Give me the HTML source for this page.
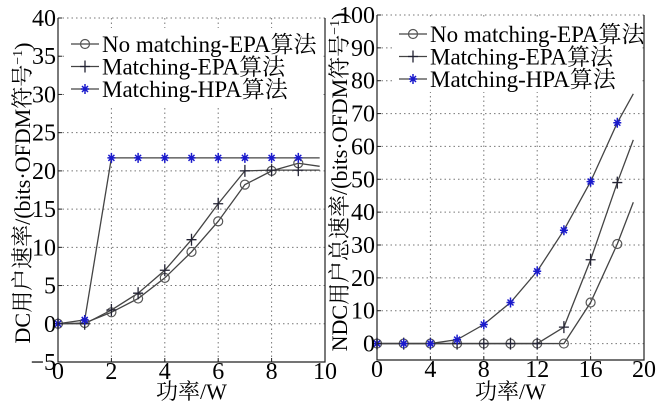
<!DOCTYPE html>
<html><head><meta charset="utf-8"><style>
html,body{margin:0;padding:0;background:#fff}
#c, #c text{font-family:"Liberation Serif","DejaVu Serif","Noto Serif CJK SC",serif}
</style></head><body>
<svg id="c" width="658" height="407" xmlns="http://www.w3.org/2000/svg"></svg>
<script>
// Left chart data
const leftX=[0,1,2,3,4,5,6,7,8,9];
const leftNoMatch=[0,0.1,1.5,3.3,6,9.4,13.4,18.2,20,21];
const leftEPA=[0,0,1.8,4,7,11,15.7,20,20.1,20.1];
const leftHPA=[0,0.5,21.7,21.7,21.7,21.7,21.7,21.7,21.7,21.7];
const leftEndX=9.8;
const leftEnd=[20.6,20.1,21.7];
const leftXTicks=[0,2,4,6,8,10];
const leftYTicks=[-5,0,5,10,15,20,25,30,35,40];
// Right chart data
const rightX=[0,2,4,6,8,10,12,14,16,18];
const rightNoMatch=[0,0,0,0,0,0,0,0,12.5,30.3];
const rightEPA=[0,0,0,0,0,0,0,5,25.5,49];
const rightHPA=[0,0,0,1.2,5.8,12.5,22,34.5,49.3,67.2];
const rightEndX=19.2;
const rightEnd=[43,62,76];
const rightXTicks=[0,4,8,12,16,20];
const rightYTicks=[0,10,20,30,40,50,60,70,80,90,100];
const legendLabels=["No matching-EPA算法","Matching-EPA算法","Matching-HPA算法"];

const svg=document.getElementById('c');
const NS='http://www.w3.org/2000/svg';
const FONT='"Liberation Serif","DejaVu Serif","Noto Serif CJK SC",serif';
function mk(tag,attrs,parent){const e=document.createElementNS(NS,tag);for(const k in attrs)e.setAttribute(k,attrs[k]);if(tag==='text')e.style.fontFamily=FONT;(parent||svg).appendChild(e);return e;}

function marker(g,kind,x,y){
  if(kind===0){const m=mk('circle',{cx:x,cy:y,r:4.5,fill:'none',stroke:'#555','stroke-width':1.2},g);
    
    }
  else if(kind===1){const m=mk('path',{d:`M${x-5} ${y}H${x+5}M${x} ${y-6}V${y+6}`,stroke:'#223','stroke-width':1.3},g);
    
    }
  else{const m=mk('path',{d:`M${x-4} ${y}H${x+4}M${x} ${y-5}V${y+5}M${x-3} ${y-3}L${x+3} ${y+3}M${x+3} ${y-3}L${x-3} ${y+3}`,stroke:'#1a1acc','stroke-width':1.5},g);
    
    }
}

function chart(o){
  const g=mk('g',{});
  
  
  const sx=v=>o.x0+(v-o.xmin)/(o.xmax-o.xmin)*(o.x1-o.x0);
  const sy=v=>o.y0-(v-o.ymin)/(o.ymax-o.ymin)*(o.y0-o.y1);
  o.xgrid.forEach(v=>{const l=mk('line',{x1:sx(v),x2:sx(v),y1:o.y1,y2:o.y0,stroke:'#777','stroke-dasharray':'1.5,3','stroke-width':1},g);
    
    });
  o.yticks.forEach(v=>{const l=mk('line',{x1:o.x0,x2:o.x1,y1:sy(v),y2:sy(v),stroke:'#777','stroke-dasharray':'1.5,3','stroke-width':1},g);
    
    });
  const series=[o.s0,o.s1,o.s2];
  series.forEach((s,i)=>{
    let pts=o.xs.map((x,j)=>sx(x)+','+sy(s[j]));
    pts.push(sx(o.endX)+','+sy(o.end[i]));
    const pl=mk('polyline',{points:pts.join(' '),fill:'none',stroke:'#444','stroke-width':1.3},g);
    
    
  });
  series.forEach((s,i)=>{o.xs.forEach((x,j)=>marker(g,i,sx(x),sy(s[j])));});
  const lg=mk('g',{},g);
  
  
  mk('rect',{x:o.lx-6,y:o.ly-16,width:o.x1-o.lx+4,height:o.lh,fill:'#fff'},lg);
  legendLabels.forEach((t,i)=>{
    const y=o.ly+i*22.5;
    mk('line',{x1:o.lx,x2:o.lx+28,y1:y,y2:y,stroke:'#444','stroke-width':1.3},lg);
    marker(lg,i,o.lx+14,y);
    const tx=mk('text',{x:o.lx+31,y:y+8,'font-size':23},lg);tx.textContent=t;
    
    
  });
  const ax=mk('path',{d:`M${o.x0} ${o.y1}V${o.y0}H${o.x1}V${o.y1}`,fill:'none',stroke:'#222','stroke-width':1.2},g);
  
  
  o.xticks.forEach(v=>{mk('line',{x1:sx(v),x2:sx(v),y1:o.y0,y2:o.y0-4,stroke:'#222'},g);
    const t=mk('text',{x:sx(v),y:o.y0+17,'font-size':24,'text-anchor':'middle'},g);t.textContent=v;
    
    });
  o.yticks.forEach(v=>{mk('line',{x1:o.x0,x2:o.x0+4,y1:sy(v),y2:sy(v),stroke:'#222'},g);
    const t=mk('text',{x:o.x0-2,y:sy(v)+8,'font-size':24,'text-anchor':'end'},g);t.textContent=v<0?'\u2212'+(-v):v;
    
    });
  const xl=mk('text',{x:(o.x0+o.x1)/2,y:399,'font-size':22,'text-anchor':'middle'},g);xl.textContent='功率/W';
  
  
  const yl=mk('text',{x:0,y:0,'font-size':o.ylfs,'text-anchor':'middle',transform:`translate(${o.ylx},${o.yly}) rotate(-90)`},g);
  yl.innerHTML=o.ylabel;
  
  
}

chart({name:'left-chart',x0:58,x1:325,y0:362,y1:18,xmin:0,xmax:10,ymin:-5,ymax:40,
  xs:leftX,s0:leftNoMatch,s1:leftEPA,s2:leftHPA,endX:leftEndX,end:leftEnd,
  xticks:leftXTicks,yticks:leftYTicks,xgrid:[2,4,6,8],
  lx:71,ly:44,lh:78,ylx:30,yly:193,ylfs:22,
  ylabel:'DC用户速率/(bits·OFDM符号<tspan dy="-8" font-size="14">−1</tspan><tspan dy="8">)</tspan>'});
chart({name:'right-chart',x0:377,x1:644,y0:360,y1:15,xmin:0,xmax:20,ymin:-5,ymax:100,
  xs:rightX,s0:rightNoMatch,s1:rightEPA,s2:rightHPA,endX:rightEndX,end:rightEnd,
  xticks:rightXTicks,yticks:rightYTicks,xgrid:[4,8,12,16],
  lx:399,ly:34,lh:74,ylx:347,yly:182,ylfs:22,
  ylabel:'NDC用户总速率/(bits·OFDM符号<tspan dy="-8" font-size="14">−1</tspan><tspan dy="8">)</tspan>'});
</script>
</body></html>
